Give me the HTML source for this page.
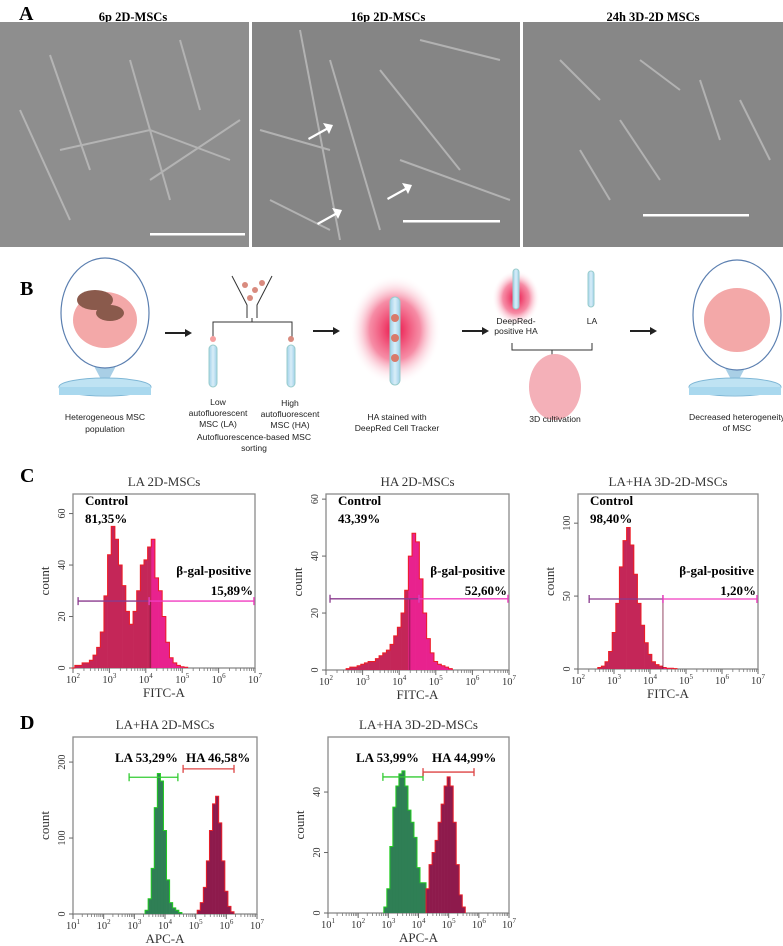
<!DOCTYPE html>
<html><head><meta charset="utf-8"><style>
html,body{margin:0;padding:0;background:#fff;}
svg{display:block;}
.ser{font-family:"Liberation Serif",serif;}
.san{font-family:"Liberation Sans",sans-serif;}
</style></head><body>
<svg id="fig" width="783" height="946" viewBox="0 0 783 946" xmlns="http://www.w3.org/2000/svg">
<defs>
<radialGradient id="glow"><stop offset="0" stop-color="#e8003a" stop-opacity="0.95"/><stop offset="0.55" stop-color="#f0406a" stop-opacity="0.6"/><stop offset="1" stop-color="#fff" stop-opacity="0"/></radialGradient>
<linearGradient id="tube" x1="0" x2="1"><stop offset="0" stop-color="#9fd0ea"/><stop offset="0.5" stop-color="#d9eef8"/><stop offset="1" stop-color="#9fd0ea"/></linearGradient>
</defs>
<!-- Panel A -->
<g>
<text x="19" y="20" class="ser" font-size="20" font-weight="bold">A</text>
<text x="133" y="21" class="ser" font-size="12.5" font-weight="bold" text-anchor="middle">6p 2D-MSCs</text>
<text x="388" y="21" class="ser" font-size="12.5" font-weight="bold" text-anchor="middle">16p 2D-MSCs</text>
<text x="653" y="21" class="ser" font-size="12.5" font-weight="bold" text-anchor="middle">24h 3D-2D MSCs</text>
<rect x="0" y="22" width="249" height="225" fill="#8e8e8e"/>
<rect x="252" y="22" width="268" height="225" fill="#858585"/>
<rect x="523" y="22" width="260" height="225" fill="#878787"/>
<g stroke="#c4c4c4" stroke-width="2" fill="none" opacity="0.7">
<path d="M50 55 L90 170 M60 150 L150 130 L230 160 M130 60 L170 200 M20 110 L70 220 M150 180 L240 120 M180 40 L200 110"/>
<path d="M300 30 L340 240 M330 60 L380 230 M260 130 L330 150 M380 70 L460 170 M400 160 L510 200 M270 200 L330 230 M420 40 L500 60"/>
<path d="M560 60 L600 100 M620 120 L660 180 M700 80 L720 140 M580 150 L610 200 M740 100 L770 160 M640 60 L680 90"/>
</g>
<g fill="#fff"><path d="M308 138 l18-10 l-3-5 l10 2 l-4 9 l-2-4 l-18 10z"/><path d="M387 198 l18-10 l-3-5 l10 2 l-4 9 l-2-4 l-18 10z"/><path d="M317 223 l18-10 l-3-5 l10 2 l-4 9 l-2-4 l-18 10z"/></g>
<rect x="150" y="233" width="95" height="2.5" fill="#fff"/>
<rect x="403" y="220" width="97" height="2.5" fill="#fff"/>
<rect x="643" y="214" width="106" height="2.5" fill="#fff"/>
</g>
<!-- Panel B -->
<g class="san">
<text x="20" y="295" class="ser" font-size="20" font-weight="bold">B</text>
<g>
<polygon points="75,330 135,330 105,387" fill="#a9cfe6"/>
<ellipse cx="105" cy="387" rx="46" ry="9" fill="#bfe3f3" stroke="#7fb7d6"/>
<rect x="59" y="387" width="92" height="8" fill="#a9d8ee"/>
<ellipse cx="105" cy="313" rx="44" ry="55" fill="#fff" stroke="#5b7fb0" stroke-width="1.2"/>
<ellipse cx="105" cy="320" rx="32" ry="28" fill="#f3a8a8"/>
<ellipse cx="95" cy="300" rx="18" ry="10" fill="#8a5a4c"/><ellipse cx="110" cy="313" rx="14" ry="8" fill="#8a5a4c"/>
</g>
<g>
<polygon points="705,330 765,330 735,387" fill="#a9cfe6"/>
<ellipse cx="735" cy="387" rx="46" ry="9" fill="#bfe3f3" stroke="#7fb7d6"/>
<rect x="689" y="387" width="92" height="8" fill="#a9d8ee"/>
<ellipse cx="737" cy="315" rx="44" ry="55" fill="#fff" stroke="#5b7fb0" stroke-width="1.2"/>
<ellipse cx="737" cy="320" rx="33" ry="32" fill="#f3a8a8"/>
</g>
<g stroke="#222" stroke-width="2" fill="#222">
<line x1="165" y1="333" x2="185" y2="333"/><polygon points="185,329 192,333 185,337" stroke="none"/>
<line x1="313" y1="331" x2="333" y2="331"/><polygon points="333,327 340,331 333,335" stroke="none"/>
<line x1="462" y1="331" x2="482" y2="331"/><polygon points="482,327 489,331 482,335" stroke="none"/>
<line x1="630" y1="331" x2="650" y2="331"/><polygon points="650,327 657,331 650,335" stroke="none"/>
</g>
<g fill="none" stroke="#333" stroke-width="1">
<path d="M232 276 L247 305 L247 318 M272 276 L257 305 L257 318"/>
<path d="M213 340 L213 322 L292 322 L292 340 M252 318 L252 322"/>
</g>
<g fill="#d98b7f"><circle cx="245" cy="285" r="3"/><circle cx="255" cy="290" r="3"/><circle cx="250" cy="298" r="3"/><circle cx="262" cy="283" r="3"/></g>
<circle cx="213" cy="339" r="3" fill="#f6a0a0"/><circle cx="291" cy="339" r="3" fill="#d98b7f"/>
<rect x="209" y="345" width="8" height="42" rx="4" fill="url(#tube)" stroke="#9cc"/>
<rect x="287" y="345" width="8" height="42" rx="4" fill="url(#tube)" stroke="#9cc"/>
<ellipse cx="395" cy="330" rx="46" ry="55" fill="url(#glow)"/>
<rect x="390" y="297" width="10" height="88" rx="5" fill="url(#tube)" stroke="#9cc"/>
<g fill="#d97a6a"><circle cx="395" cy="318" r="4"/><circle cx="395" cy="338" r="4"/><circle cx="395" cy="358" r="4"/></g>
<ellipse cx="516" cy="298" rx="24" ry="28" fill="url(#glow)"/>
<rect x="513" y="269" width="6" height="40" rx="3" fill="url(#tube)" stroke="#9cc"/>
<rect x="588" y="271" width="6" height="36" rx="3" fill="url(#tube)" stroke="#9cc"/>
<path d="M512 343 L512 350 L592 350 L592 343 M552 350 L552 355" fill="none" stroke="#333"/>
<ellipse cx="555" cy="387" rx="26" ry="33" fill="#f4b0b8"/>
<g font-size="8.6" text-anchor="middle" fill="#222">
<text x="105" y="420">Heterogeneous MSC</text><text x="105" y="432">population</text>
<text x="218" y="405">Low</text><text x="218" y="416">autofluorescent</text><text x="218" y="427">MSC (LA)</text>
<text x="290" y="406">High</text><text x="290" y="417">autofluorescent</text><text x="290" y="428">MSC (HA)</text>
<text x="254" y="440">Autofluorescence-based MSC</text><text x="254" y="451">sorting</text>
<text x="397" y="420">HA stained with</text><text x="397" y="431">DeepRed Cell Tracker</text>
<text x="516" y="324">DeepRed-</text><text x="516" y="334">positive HA</text><text x="592" y="324">LA</text>
<text x="555" y="422">3D cultivation</text>
<text x="737" y="420">Decreased heterogeneity</text><text x="737" y="431">of MSC</text>
</g>
</g>
<text x="20" y="482" class="ser" font-size="20" font-weight="bold">C</text>
<text x="20" y="729" class="ser" font-size="20" font-weight="bold">D</text>
<g id="charts"></g>
</svg>
<script>
// ---- Panel C data ----
const c1Bins=[2.0,2.1,2.2,2.3,2.4,2.5,2.6,2.7,2.8,2.9,3.0,3.1,3.2,3.3,3.4,3.5,3.6,3.7,3.8,3.9,4.0,4.1,4.2,4.3,4.4,4.5,4.6,4.7,4.8,4.9,5.0,5.1];
const c1Counts=[0,1,1,2,2,3,5,8,14,28,44,55,50,40,32,22,17,22,30,40,42,47,50,35,30,20,10,4,2,1,0.5,0.3];
const c2Bins=[2.6,2.7,2.8,2.9,3.0,3.1,3.2,3.3,3.4,3.5,3.6,3.7,3.8,3.9,4.0,4.1,4.2,4.3,4.4,4.5,4.6,4.7,4.8,4.9,5.0,5.1,5.2,5.3,5.4];
const c2Counts=[0.5,1,1,1.5,2,2.5,3,3,4,5,6,7,9,12,15,20,28,40,48,45,32,20,11,6,3,2,1.5,1,0.5];
const c3Bins=[2.6,2.7,2.8,2.9,3.0,3.1,3.2,3.3,3.4,3.5,3.6,3.7,3.8,3.9,4.0,4.1,4.2,4.3,4.4,4.5,4.6,4.7];
const c3Counts=[1,2,5,12,25,45,70,88,97,85,65,45,30,18,10,5,3,2,1,0.5,0.5,0.3];
const cTitles=["LA 2D-MSCs","HA 2D-MSCs","LA+HA 3D-2D-MSCs"];
const cControl=["81,35%","43,39%","98,40%"];
const cPositive=["15,89%","52,60%","1,20%"];
const cGateLevel=[26,25,48];
const cGateStart=[2.14,2.11,2.31];
const cGateSplit=[4.09,4.54,4.36];
const cFillSplit=[4.12,4.29,4.36];
const cYTicks1=[0,20,40,60];
const cYTicks2=[0,20,40,60];
const cYTicks3=[0,50,100];
const cXTicks=[2,3,4,5,6,7];
// ---- Panel D data ----
const d1GreenBins=[3.4,3.5,3.6,3.7,3.8,3.9,4.0,4.1,4.2,4.3,4.4,4.5];
const d1GreenCounts=[5,20,60,140,185,175,110,45,15,8,5,2];
const d1RedBins=[5.1,5.2,5.3,5.4,5.5,5.6,5.7,5.8,5.9,6.0,6.1,6.2];
const d1RedCounts=[5,15,35,70,110,145,155,120,70,30,10,3];
const d2GreenBins=[2.9,3.0,3.1,3.2,3.3,3.4,3.5,3.6,3.7,3.8,3.9,4.0,4.1,4.2];
const d2GreenCounts=[2,8,22,35,42,46,47,42,34,30,25,15,10,10];
const d2RedBins=[4.3,4.4,4.5,4.6,4.7,4.8,4.9,5.0,5.1,5.2,5.3,5.4,5.5];
const d2RedCounts=[8,16,20,24,30,36,42,45,42,30,16,6,2];
const dTitles=["LA+HA 2D-MSCs","LA+HA 3D-2D-MSCs"];
const dLA=["LA 53,29%","LA 53,99%"];
const dHA=["HA 46,58%","HA 44,99%"];
const dGreenGate=[[2.83,4.42,180],[2.82,4.15,45]];
const dRedGate=[[4.59,6.25,191],[4.15,5.84,46.6]];
const dYTicks1=[0,100,200];
const dYTicks2=[0,20,40];
const dXTicks=[1,2,3,4,5,6,7];

const NS="http://www.w3.org/2000/svg";
const root=document.getElementById('charts');
function mk(tag,attrs,parent){const e=document.createElementNS(NS,tag);for(const k in attrs)e.setAttribute(k,attrs[k]);(parent||root).appendChild(e);return e;}
function txt(s,attrs,parent){const e=mk('text',attrs,parent);e.textContent=s;return e;}

function makeAxes(g,P,title,yTicks,xTicks,xLabel){
  const sx=v=>P.x0+(v-P.xmin)/(P.xmax-P.xmin)*(P.x1-P.x0);
  const sy=v=>P.y0-v*(P.y0-P.yt)/P.ymax;
  const box=mk('rect',{x:P.x0,y:P.yt,width:P.x1-P.x0,height:P.y0-P.yt,fill:'none',stroke:'#8a8a8a','stroke-width':1.3},g);
  
  
  const t=txt(title,{x:(P.x0+P.x1)/2,y:P.yt-8,'text-anchor':'middle','class':'ser','font-size':13,fill:'#333'},g);
  
  
  yTicks.forEach(v=>{
    mk('line',{x1:P.x0-4,x2:P.x0,y1:sy(v),y2:sy(v),stroke:'#666'},g);
    const l=txt(String(v),{x:P.x0-8,y:sy(v),'text-anchor':'middle','class':'ser','font-size':10,fill:'#333',transform:`rotate(-90 ${P.x0-8} ${sy(v)})`},g);
    
    
  });
  xTicks.forEach((v,i)=>{
    mk('line',{x1:sx(v),x2:sx(v),y1:P.y0,y2:P.y0+5,stroke:'#666'},g);
    if(i<xTicks.length-1){for(let m=2;m<10;m++){const xm=sx(v+Math.log10(m));mk('line',{x1:xm,x2:xm,y1:P.y0,y2:P.y0+3,stroke:'#777','stroke-width':0.8},g);}}
    const l=mk('text',{x:sx(v),y:P.y0+15,'text-anchor':'middle','class':'ser','font-size':10.5,fill:'#333'},g);
    
    
    const a=document.createElementNS(NS,'tspan');a.textContent='10';l.appendChild(a);
    const b=document.createElementNS(NS,'tspan');b.textContent=String(v);b.setAttribute('font-size','7');b.setAttribute('dy','-5');l.appendChild(b);
  });
  const yl=txt('count',{x:P.x0-24,y:(P.yt+P.y0)/2,'text-anchor':'middle','class':'ser','font-size':13,fill:'#333',transform:`rotate(-90 ${P.x0-24} ${(P.yt+P.y0)/2})`},g);
  
  
  const xl=txt(xLabel,{x:(P.x0+P.x1)/2,y:P.y0+29,'text-anchor':'middle','class':'ser','font-size':13,fill:'#333'},g);
  
  
  return {sx,sy};
}
function drawHist(g,S,bins,counts,w,fillFn,stroke){
  let d='';
  bins.forEach((b,i)=>{
    const x=S.sx(b-w/2),x2=S.sx(b+w/2),y=S.sy(counts[i]);
    const r=mk('rect',{x:x,y:y,width:x2-x+0.3,height:S.sy(0)-y,fill:fillFn(b)},g);
    
    
    d+=(i===0?`M${x} ${S.sy(0)} `:'')+`L${x} ${y} L${x2} ${y} `;
    if(i===bins.length-1)d+=`L${x2} ${S.sy(0)}`;
  });
  const p=mk('path',{d:d,fill:'none',stroke:stroke,'stroke-width':1},g);
  
  
}
function gate(g,S,a,b,lvl,color){
  const y=S.sy(lvl);
  const l=mk('path',{d:`M${S.sx(a)} ${y} L${S.sx(b)} ${y} M${S.sx(a)} ${y-4} L${S.sx(a)} ${y+4} M${S.sx(b)} ${y-4} L${S.sx(b)} ${y+4}`,stroke:color,'stroke-width':1.3,fill:'none'},g);
  
  
}

const cGeo=[{x0:73,x1:255,yt:494,y0:668,ymax:67.6,xmin:2,xmax:7},{x0:326,x1:509,yt:494,y0:670,ymax:61.8,xmin:2,xmax:7},{x0:578,x1:758,yt:494,y0:669,ymax:120,xmin:2,xmax:7}];
const cData=[[c1Bins,c1Counts,cYTicks1],[c2Bins,c2Counts,cYTicks2],[c3Bins,c3Counts,cYTicks3]];
cGeo.forEach((P,k)=>{
  const g=mk('g',{});
  
  
  const S=makeAxes(g,P,cTitles[k],cData[k][2],cXTicks,'FITC-A');
  drawHist(g,S,cData[k][0],cData[k][1],0.1,b=>b<cFillSplit[k]?'#c42658':'#e8228e','#ee1c24');
  mk('line',{x1:S.sx(cFillSplit[k]),x2:S.sx(cFillSplit[k]),y1:S.sy(0),y2:S.sy(cGateLevel[k]),stroke:'#7a1a40','stroke-width':0.8},g);
  gate(g,S,cGateStart[k],cGateSplit[k],cGateLevel[k],'#8a3a8e');
  gate(g,S,cGateSplit[k],6.97,cGateLevel[k],'#f03cc0');
  const t1=txt('Control',{x:P.x0+12,y:P.yt+11,'class':'ser','font-size':13,'font-weight':'bold'},g);
  
  
  const t2=txt(cControl[k],{x:P.x0+12,y:P.yt+29,'class':'ser','font-size':13,'font-weight':'bold'},g);
  
  
  const t3=txt('β-gal-positive',{x:P.x1-4,y:P.yt+81,'text-anchor':'end','class':'ser','font-size':13,'font-weight':'bold'},g);
  
  
  const t4=txt(cPositive[k],{x:P.x1-2,y:P.yt+101,'text-anchor':'end','class':'ser','font-size':13,'font-weight':'bold'},g);
  
  
});

const dGeo=[{x0:73,x1:257,yt:737,y0:914,ymax:233,xmin:1,xmax:7},{x0:328,x1:509,yt:737,y0:913,ymax:58.2,xmin:1,xmax:7}];
const dLabelX=[[115,186],[356,432]];
const dData=[[d1GreenBins,d1GreenCounts,d1RedBins,d1RedCounts,dYTicks1],[d2GreenBins,d2GreenCounts,d2RedBins,d2RedCounts,dYTicks2]];
dGeo.forEach((P,k)=>{
  const g=mk('g',{});
  
  
  const S=makeAxes(g,P,dTitles[k],dData[k][4],dXTicks,'APC-A');
  drawHist(g,S,dData[k][0],dData[k][1],0.1,()=>'#2f7f55','#22cc22');
  drawHist(g,S,dData[k][2],dData[k][3],0.1,()=>'#8e1a4c','#e8202a');
  gate(g,S,dGreenGate[k][0],dGreenGate[k][1],dGreenGate[k][2],'#33cc33');
  gate(g,S,dRedGate[k][0],dRedGate[k][1],dRedGate[k][2],'#dd4444');
  const la=txt(dLA[k],{x:dLabelX[k][0],y:P.yt+25,'class':'ser','font-size':13,'font-weight':'bold'},g);
  
  
  const ha=txt(dHA[k],{x:dLabelX[k][1],y:P.yt+25,'class':'ser','font-size':13,'font-weight':'bold'},g);
  
  
});
</script>
</body></html>
